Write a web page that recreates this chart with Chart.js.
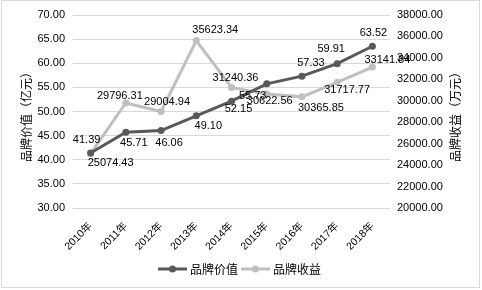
<!DOCTYPE html>
<html><head><meta charset="utf-8">
<script src="https://cdn.jsdelivr.net/npm/chart.js@4/dist/chart.umd.min.js"></script>
<style>html,body{margin:0;padding:0;background:#fff}canvas{display:block}</style>
</head><body>
<canvas id="c" width="482" height="290"></canvas>
<script>
const categories = ['2010年','2011年','2012年','2013年','2014年','2015年','2016年','2017年','2018年'];
const brandValue = [41.39, 45.71, 46.06, 49.10, 52.15, 55.73, 57.33, 59.91, 63.52];
const brandRevenue = [25074.43, 29796.31, 29004.94, 35623.34, 31240.36, 30622.56, 30365.85, 31717.77, 33141.84];
const seriesNames = ['品牌价值', '品牌收益'];
const leftAxis = { min: 30, max: 70, step: 5 };
const rightAxis = { min: 20000, max: 38000, step: 2000 };
const axisTitles = ['品牌价值（亿元）', '品牌收益（万元）'];

const FONT = "'Liberation Sans', 'Noto Sans CJK SC', sans-serif";
const CJK = "'Noto Sans CJK SC', sans-serif";
const DARK = '#595959', LIGHT = '#bfbfbf';

// label offsets (styling): dx, dy from point centre
const labelOffsets = [
  [[-4,-13],[8,11],[8,12],[12,10],[7,8],[-14,12],[9,-13],[-6,-15],[1,-13]],
  [[20,9],[-6,-7],[6,-9],[19,-11],[4,-10],[3,7],[19,11],[10,8],[15,-7]]
];

const extras = {
  id: 'extras',
  beforeDraw(chart) {
    const ctx = chart.ctx;
    ctx.save();
    ctx.fillStyle = '#fff';
    ctx.fillRect(0, 0, chart.width, chart.height);
    ctx.strokeStyle = '#d9d9d9';
    ctx.lineWidth = 1;
    ctx.strokeRect(1.5, 0.5, 478, 287);
    ctx.restore();
  },
  afterDatasetsDraw(chart) {
    const ctx = chart.ctx;
    ctx.save();
    ctx.font = '11px ' + FONT;
    ctx.fillStyle = '#000';
    ctx.textAlign = 'center';
    ctx.textBaseline = 'middle';
    chart.data.datasets.forEach((ds, di) => {
      const meta = chart.getDatasetMeta(di);
      meta.data.forEach((el, i) => {
        const [dx, dy] = labelOffsets[di][i];
        ctx.fillText(ds.data[i].toFixed(2), el.x + dx, el.y + dy);
      });
    });
    // axis titles
    ctx.font = '12px ' + CJK;
    const cy = 114;
    [[26, axisTitles[0]], [455, axisTitles[1]]].forEach(([x, t]) => {
      ctx.save();
      ctx.translate(x, cy);
      ctx.rotate(-Math.PI / 2);
      ctx.fillText(t, 0, 0);
      ctx.restore();
    });
    // legend
    const ly = 269;
    let x = 158;
    ctx.textAlign = 'left';
    [[DARK, seriesNames[0]], [LIGHT, seriesNames[1]]].forEach(([col, name]) => {
      ctx.strokeStyle = col;
      ctx.lineWidth = 3;
      ctx.beginPath();
      ctx.moveTo(x, ly); ctx.lineTo(x + 29, ly);
      ctx.stroke();
      ctx.fillStyle = col;
      ctx.beginPath();
      ctx.arc(x + 14.5, ly, 3.5, 0, Math.PI * 2);
      ctx.fill();
      ctx.fillStyle = '#000';
      ctx.fillText(name, x + 32, ly);
      x += 32 + ctx.measureText(name).width + 3;
    });
    ctx.restore();
  }
};

new Chart(document.getElementById('c'), {
  type: 'line',
  data: {
    labels: categories,
    datasets: [
      { label: seriesNames[0], data: brandValue, yAxisID: 'y', borderColor: DARK, backgroundColor: DARK,
        borderWidth: 3, pointRadius: 3.5, pointBackgroundColor: DARK, pointBorderWidth: 0, tension: 0 },
      { label: seriesNames[1], data: brandRevenue, yAxisID: 'y1', borderColor: LIGHT, backgroundColor: LIGHT,
        borderWidth: 3, pointRadius: 3.5, pointBackgroundColor: LIGHT, pointBorderWidth: 0, tension: 0 }
    ]
  },
  options: {
    responsive: false,
    animation: false,
    layout: { padding: { top: 15, left: 0, right: 0, bottom: 0 } },
    plugins: { legend: { display: false }, tooltip: { enabled: false } },
    scales: {
      x: {
        offset: true,
        grid: { display: false },
        border: { display: false },
        ticks: { color: '#000', font: { size: 10.5, family: FONT }, minRotation: 45, maxRotation: 45, padding: 4 },
        afterFit(s) { s.height = 82; }
      },
      y: {
        position: 'left',
        min: leftAxis.min, max: leftAxis.max,
        grid: { color: '#d9d9d9', drawTicks: false },
        border: { display: false },
        ticks: { stepSize: leftAxis.step, color: '#000', padding: 8, font: { size: 11, family: FONT },
                 callback: v => v.toFixed(2) },
        afterFit(s) { s.width = 73; }
      },
      y1: {
        position: 'right',
        min: rightAxis.min, max: rightAxis.max,
        grid: { display: false, drawTicks: false },
        border: { display: false },
        ticks: { stepSize: rightAxis.step, color: '#000', padding: 7, font: { size: 11, family: FONT },
                 callback: v => v.toFixed(2) },
        afterFit(s) { s.width = 92; }
      }
    }
  },
  plugins: [extras]
});
</script>
</body></html>
